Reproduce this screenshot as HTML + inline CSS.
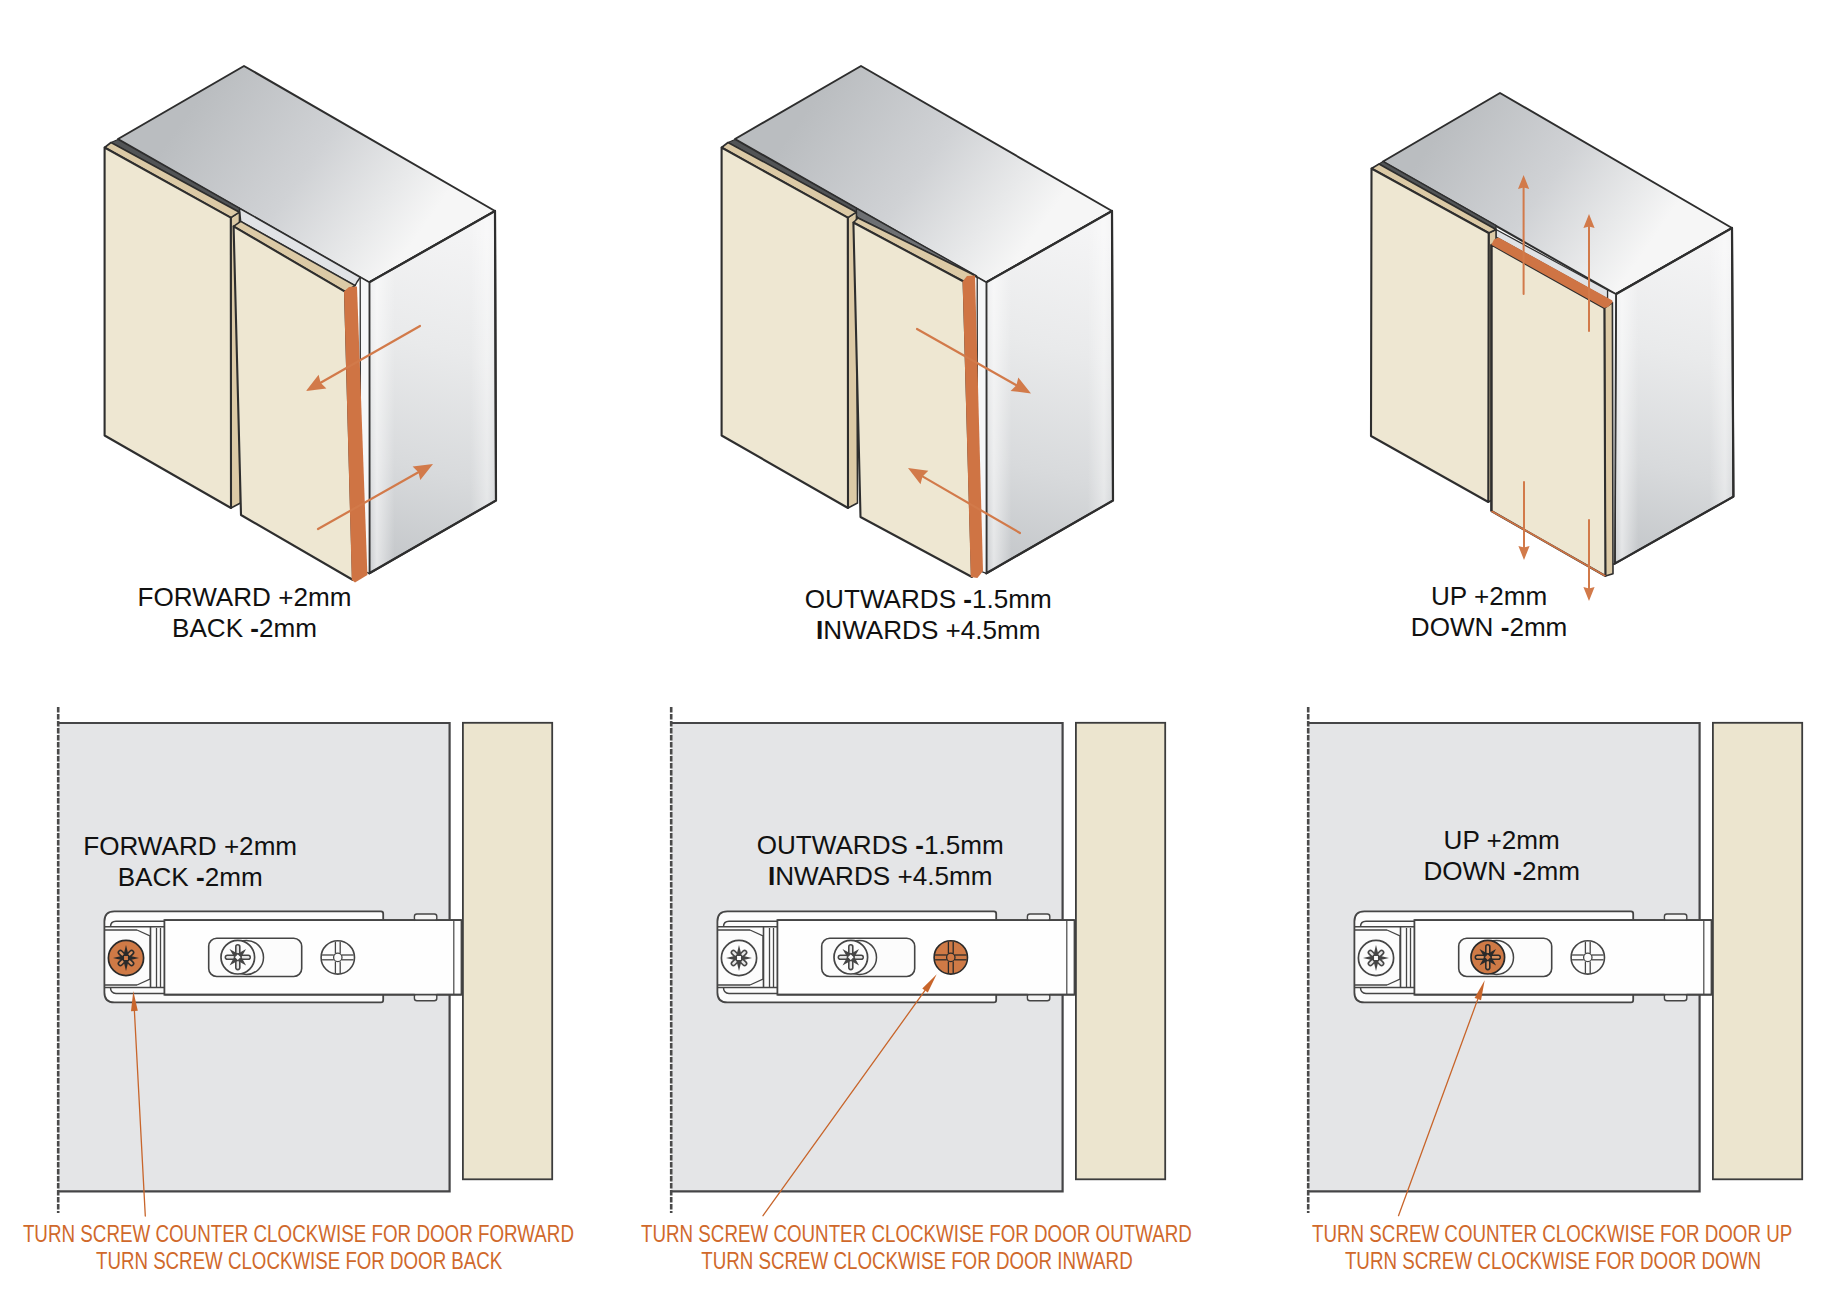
<!DOCTYPE html>
<html><head><meta charset="utf-8"><style>
html,body{margin:0;padding:0;background:#fff;}
svg{display:block;font-family:"Liberation Sans",sans-serif;}
</style></head><body>
<svg width="1828" height="1298" viewBox="0 0 1828 1298">
<rect width="1828" height="1298" fill="#fff"/>
<defs>
<linearGradient id="gBand" x1="0" y1="0" x2="1" y2="0"><stop offset="0" stop-color="#fff" stop-opacity="0.1"/><stop offset="0.06" stop-color="#fff" stop-opacity="0.55"/><stop offset="0.2" stop-color="#fff" stop-opacity="0"/><stop offset="0.8" stop-color="#fff" stop-opacity="0"/><stop offset="0.93" stop-color="#fff" stop-opacity="0.4"/><stop offset="1" stop-color="#fff" stop-opacity="0"/></linearGradient>
<linearGradient id="gTop0" gradientUnits="userSpaceOnUse" x1="190" y1="110" x2="400" y2="260"><stop offset="0" stop-color="#babdc0"/><stop offset="0.5" stop-color="#d0d2d5"/><stop offset="0.82" stop-color="#e8e9ea"/><stop offset="1" stop-color="#f6f6f6"/></linearGradient>
<linearGradient id="gSide0" gradientUnits="userSpaceOnUse" x1="470" y1="230" x2="390" y2="570"><stop offset="0" stop-color="#f4f4f5"/><stop offset="0.35" stop-color="#e9eaeb"/><stop offset="0.7" stop-color="#d8dadc"/><stop offset="1" stop-color="#c3c6c9"/></linearGradient>
<linearGradient id="gTop617" gradientUnits="userSpaceOnUse" x1="807" y1="110" x2="1017" y2="260"><stop offset="0" stop-color="#babdc0"/><stop offset="0.5" stop-color="#d0d2d5"/><stop offset="0.82" stop-color="#e8e9ea"/><stop offset="1" stop-color="#f6f6f6"/></linearGradient>
<linearGradient id="gSide617" gradientUnits="userSpaceOnUse" x1="1087" y1="230" x2="1007" y2="570"><stop offset="0" stop-color="#f4f4f5"/><stop offset="0.35" stop-color="#e9eaeb"/><stop offset="0.7" stop-color="#d8dadc"/><stop offset="1" stop-color="#c3c6c9"/></linearGradient>
<linearGradient id="gTop3" gradientUnits="userSpaceOnUse" x1="1440" y1="130" x2="1635" y2="265"><stop offset="0" stop-color="#babdc0"/><stop offset="0.5" stop-color="#d0d2d5"/><stop offset="0.82" stop-color="#e8e9ea"/><stop offset="1" stop-color="#f6f6f6"/></linearGradient>
<linearGradient id="gSide3" gradientUnits="userSpaceOnUse" x1="1705" y1="245" x2="1630" y2="560"><stop offset="0" stop-color="#f4f4f5"/><stop offset="0.35" stop-color="#e9eaeb"/><stop offset="0.7" stop-color="#d8dadc"/><stop offset="1" stop-color="#c3c6c9"/></linearGradient>
</defs>
<polygon points="118.0,139.0 244.0,66.0 495.0,211.0 369.2,282.4" fill="url(#gTop0)" stroke="#2e2e2e" stroke-width="2" stroke-linejoin="round"/>
<polygon points="369.2,282.4 495.0,211.0 496.0,500.5 369.3,573.3" fill="url(#gSide0)" stroke="#2e2e2e" stroke-width="2" stroke-linejoin="round"/>
<polygon points="369.2,282.4 495.0,211.0 496.0,500.5 369.3,573.3" fill="url(#gBand)"/>
<polygon points="369.2,282.4 495.0,211.0 496.0,500.5 369.3,573.3" fill="none" stroke="#2e2e2e" stroke-width="2.2" stroke-linejoin="round"/>
<polygon points="360.2,277.3 369.2,282.4 369.3,573.3 360.5,570.0" fill="#f6f7f8" stroke="#2e2e2e" stroke-width="1.3" stroke-linejoin="round" />
<polygon points="239.4,208.3 360.2,277.3 357.0,282.0 355.1,285.6 240.7,221.4" fill="#e1e3e6" stroke="#2e2e2e" stroke-width="1.4" stroke-linejoin="round" />
<polygon points="118.0,139.5 239.4,208.3 239.4,212.2 111.0,142.5" fill="#525456" stroke="#2e2e2e" stroke-width="1.3" stroke-linejoin="round" />
<polygon points="230.8,217.7 239.4,212.2 240.5,503.0 231.0,508.0" fill="#dccaa6" stroke="#2e2e2e" stroke-width="1.5" stroke-linejoin="round" />
<polygon points="104.6,147.5 111.0,142.5 239.4,212.2 230.8,217.7" fill="#dccaa6" stroke="#2e2e2e" stroke-width="1.6" stroke-linejoin="round" />
<polygon points="104.6,147.5 230.8,217.7 231.0,508.0 104.6,435.5" fill="#eee7d2" stroke="#2e2e2e" stroke-width="2.1" stroke-linejoin="round" />
<polygon points="233.6,226.4 240.7,221.4 355.1,285.6 345.0,291.6" fill="#dccaa6" stroke="#2e2e2e" stroke-width="1.6" stroke-linejoin="round" />
<polygon points="233.6,226.4 345.0,291.6 353.0,580.0 241.0,515.0" fill="#eee7d2" stroke="#2e2e2e" stroke-width="2.1" stroke-linejoin="round" />
<polygon points="344.0,291.6 349.0,287.0 357.0,286.5 367.4,575.0 355.0,582.5 351.8,580.0" fill="#cf7444" stroke="none" stroke-width="0" stroke-linejoin="round" />
<line x1="420.0" y1="326.0" x2="320.6" y2="382.7" stroke="#d27a4a" stroke-width="2.2" stroke-linecap="round"/>
<polygon points="306.0,391.0 318.6,374.8 320.6,382.7 326.4,388.4" fill="#d27a4a"/>
<line x1="318.0" y1="529.0" x2="418.4" y2="472.3" stroke="#d27a4a" stroke-width="2.2" stroke-linecap="round"/>
<polygon points="433.0,464.0 420.3,480.1 418.4,472.3 412.6,466.6" fill="#d27a4a"/>
<polygon points="735.0,139.0 861.0,66.0 1112.0,211.0 986.2,282.4" fill="url(#gTop617)" stroke="#2e2e2e" stroke-width="2" stroke-linejoin="round"/>
<polygon points="986.2,282.4 1112.0,211.0 1113.0,500.5 986.3,573.3" fill="url(#gSide617)" stroke="#2e2e2e" stroke-width="2" stroke-linejoin="round"/>
<polygon points="986.2,282.4 1112.0,211.0 1113.0,500.5 986.3,573.3" fill="url(#gBand)"/>
<polygon points="986.2,282.4 1112.0,211.0 1113.0,500.5 986.3,573.3" fill="none" stroke="#2e2e2e" stroke-width="2.2" stroke-linejoin="round"/>
<polygon points="977.2,277.3 986.2,282.4 986.3,573.3 977.5,570.0" fill="#f6f7f8" stroke="#2e2e2e" stroke-width="1.3" stroke-linejoin="round" />
<polygon points="856.4,208.3 976.5,275.8 975.0,275.5 858.0,218.0 854.7,213.4" fill="#6e7073" stroke="#2e2e2e" stroke-width="1.4" stroke-linejoin="round" />
<polygon points="735.0,139.5 856.4,208.3 856.4,212.2 728.0,142.5" fill="#525456" stroke="#2e2e2e" stroke-width="1.3" stroke-linejoin="round" />
<polygon points="847.8,217.7 856.4,212.2 857.5,503.0 848.0,508.0" fill="#dccaa6" stroke="#2e2e2e" stroke-width="1.5" stroke-linejoin="round" />
<polygon points="721.6,147.5 728.0,142.5 856.4,212.2 847.8,217.7" fill="#dccaa6" stroke="#2e2e2e" stroke-width="1.6" stroke-linejoin="round" />
<polygon points="721.6,147.5 847.8,217.7 848.0,508.0 721.6,435.5" fill="#eee7d2" stroke="#2e2e2e" stroke-width="2.1" stroke-linejoin="round" />
<polygon points="853.4,222.5 858.0,218.0 975.0,275.5 963.6,281.5" fill="#dccaa6" stroke="#2e2e2e" stroke-width="1.6" stroke-linejoin="round" />
<polygon points="853.4,222.5 963.6,281.5 972.0,577.0 860.5,517.0" fill="#eee7d2" stroke="#2e2e2e" stroke-width="2.1" stroke-linejoin="round" />
<polygon points="962.6,281.5 967.0,276.0 975.0,275.5 983.0,571.0 977.4,578.0 970.8,577.0" fill="#cf7444" stroke="none" stroke-width="0" stroke-linejoin="round" />
<line x1="917.0" y1="329.0" x2="1016.4" y2="385.2" stroke="#d27a4a" stroke-width="2.2" stroke-linecap="round"/>
<polygon points="1031.0,393.5 1010.6,390.9 1016.4,385.2 1018.3,377.4" fill="#d27a4a"/>
<line x1="1020.0" y1="533.0" x2="922.5" y2="476.4" stroke="#d27a4a" stroke-width="2.2" stroke-linecap="round"/>
<polygon points="908.0,468.0 928.3,470.8 922.5,476.4 920.5,484.3" fill="#d27a4a"/>
<polygon points="1383.0,161.5 1500.0,93.0 1732.0,228.0 1615.8,294.2" fill="url(#gTop3)" stroke="#2e2e2e" stroke-width="2" stroke-linejoin="round"/>
<polygon points="1615.8,294.2 1732.0,228.0 1733.4,496.6 1614.7,563.6" fill="url(#gSide3)" stroke="#2e2e2e" stroke-width="2" stroke-linejoin="round"/>
<polygon points="1615.8,294.2 1732.0,228.0 1733.4,496.6 1614.7,563.6" fill="url(#gBand)"/>
<polygon points="1615.8,294.2 1732.0,228.0 1733.4,496.6 1614.7,563.6" fill="none" stroke="#2e2e2e" stroke-width="2.2" stroke-linejoin="round"/>
<polygon points="1607.5,290.0 1615.8,294.2 1614.7,563.6 1607.5,566.0" fill="#f4f5f6" stroke="#2e2e2e" stroke-width="1.3" stroke-linejoin="round" />
<polygon points="1496.0,229.5 1607.5,290.0 1607.5,299.0 1496.0,237.0" fill="#e0e2e5" stroke="#2e2e2e" stroke-width="1.2" stroke-linejoin="round" />
<polygon points="1383.0,161.5 1496.0,225.5 1496.0,229.5 1379.0,164.0" fill="#525456" stroke="#2e2e2e" stroke-width="1.3" stroke-linejoin="round" />
<polygon points="1488.7,233.0 1496.0,229.5 1496.0,498.0 1488.3,502.0" fill="#dccaa6" stroke="#2e2e2e" stroke-width="1.5" stroke-linejoin="round" />
<polygon points="1371.5,168.5 1379.0,164.0 1496.0,229.5 1488.7,233.0" fill="#dccaa6" stroke="#2e2e2e" stroke-width="1.6" stroke-linejoin="round" />
<polygon points="1371.5,168.5 1488.7,233.0 1488.3,502.0 1371.0,436.0" fill="#eee7d2" stroke="#2e2e2e" stroke-width="2.1" stroke-linejoin="round" />
<polygon points="1604.4,308.0 1612.4,302.5 1613.0,573.7 1605.4,576.0" fill="#dccaa6" stroke="#2e2e2e" stroke-width="1.6" stroke-linejoin="round" />
<polygon points="1491.4,244.7 1604.4,308.0 1605.4,576.0 1491.4,511.0" fill="#eee7d2" stroke="#2e2e2e" stroke-width="2.1" stroke-linejoin="round" />
<line x1="1491.4" y1="511.0" x2="1605.4" y2="576.0" stroke="#cf7444" stroke-width="1.8" />
<line x1="1491.4" y1="244.7" x2="1491.4" y2="511.0" stroke="#2e2e2e" stroke-width="2.1" />
<polygon points="1491.4,244.7 1494.0,239.5 1498.5,237.6 1612.4,300.5 1612.4,302.5 1608.0,307.0 1604.4,308.0" fill="#cf7444"/>
<line x1="1523.6" y1="294.0" x2="1523.6" y2="187.5" stroke="#d27a4a" stroke-width="2.0" stroke-linecap="round"/>
<polygon points="1523.6,175.0 1529.2,189.0 1523.6,187.5 1518.0,189.0" fill="#d27a4a"/>
<line x1="1589.0" y1="331.0" x2="1589.0" y2="226.5" stroke="#d27a4a" stroke-width="2.0" stroke-linecap="round"/>
<polygon points="1589.0,214.0 1594.6,228.0 1589.0,226.5 1583.4,228.0" fill="#d27a4a"/>
<line x1="1524.0" y1="482.0" x2="1524.0" y2="547.5" stroke="#d27a4a" stroke-width="2.0" stroke-linecap="round"/>
<polygon points="1524.0,560.0 1518.4,546.0 1524.0,547.5 1529.6,546.0" fill="#d27a4a"/>
<line x1="1589.0" y1="520.0" x2="1589.0" y2="588.5" stroke="#d27a4a" stroke-width="2.0" stroke-linecap="round"/>
<polygon points="1589.0,601.0 1583.4,587.0 1589.0,588.5 1594.6,587.0" fill="#d27a4a"/>
<text x="244.5" y="606.2" font-size="26.1" text-anchor="middle" fill="#111">FORWARD +2mm</text>
<text x="244.5" y="637" font-size="26.1" text-anchor="middle" fill="#111">BACK <tspan font-weight="bold">-</tspan>2mm</text>
<text x="928.3" y="608.2" font-size="26.1" text-anchor="middle" fill="#111">OUTWARDS <tspan font-weight="bold">-</tspan>1.5mm</text>
<text x="928.3" y="639.4" font-size="26.1" text-anchor="middle" fill="#111"><tspan font-weight="bold">I</tspan>NWARDS +4.5mm</text>
<text x="1489.1" y="605.2" font-size="26.1" text-anchor="middle" fill="#111">UP +2mm</text>
<text x="1489.1" y="636.3" font-size="26.1" text-anchor="middle" fill="#111">DOWN <tspan font-weight="bold">-</tspan>2mm</text>
<rect x="58.2" y="723" width="391.40000000000003" height="468.29999999999995" fill="#e4e5e7"/>
<path d="M58.2,723 H449.6 V1191.3 H58.2" fill="none" stroke="#454547" stroke-width="2.2"/>
<line x1="58.2" y1="707" x2="58.2" y2="1213" stroke="#4a4a4a" stroke-width="2.6" stroke-dasharray="5.6,1.4"/>
<rect x="462.9" y="722.8" width="89.30000000000007" height="456.5" fill="#ece5cf" stroke="#3c3c3c" stroke-width="1.8"/>
<text x="190.2" y="855.4" font-size="26.1" text-anchor="middle" fill="#111">FORWARD +2mm</text>
<text x="190.2" y="886" font-size="26.1" text-anchor="middle" fill="#111">BACK <tspan font-weight="bold">-</tspan>2mm</text>
<path d="M381,911.4 L114.4,911.4 Q104.4,911.4 104.4,921.4 L104.4,992.4 Q104.4,1002.4 114.4,1002.4 L381,1002.4 Q383.2,1002.4 383.2,1000 L383.2,913.8 Q383.2,911.4 381,911.4 Z" fill="#fcfcfc" stroke="#454545" stroke-width="1.8"/>
<path d="M164.4,921.2 L116,921.2 Q110.5,921.2 110.5,926.8" fill="none" stroke="#454545" stroke-width="1.5"/>
<path d="M164.4,993.4 L116,993.4 Q110.5,993.4 110.5,987.6" fill="none" stroke="#454545" stroke-width="1.5"/>
<line x1="104.4" y1="926.8" x2="164.4" y2="926.8" stroke="#454545" stroke-width="1.5" />
<line x1="104.4" y1="987.6" x2="164.4" y2="987.6" stroke="#454545" stroke-width="1.5" />
<line x1="104.4" y1="930.0" x2="137.0" y2="930.0" stroke="#454545" stroke-width="1.3" />
<line x1="104.4" y1="985.0" x2="137.0" y2="985.0" stroke="#454545" stroke-width="1.3" />
<path d="M137,930 L150,936 L150,979 L137,985" fill="none" stroke="#454545" stroke-width="1.3"/>
<line x1="150.5" y1="927.0" x2="150.5" y2="988.0" stroke="#454545" stroke-width="1.6" />
<line x1="156.5" y1="928.0" x2="156.5" y2="987.0" stroke="#454545" stroke-width="1.3" />
<line x1="160.5" y1="928.0" x2="160.5" y2="987.0" stroke="#454545" stroke-width="1.3" />
<rect x="164.4" y="920.1" width="297.1" height="74.60000000000002" fill="#fefefe" stroke="#454545" stroke-width="1.8"/>
<line x1="453.8" y1="921.0" x2="453.8" y2="994.0" stroke="#454545" stroke-width="1.2" />
<rect x="414.4" y="914" width="22.4" height="7" rx="2.5" fill="#f4f4f4" stroke="#454545" stroke-width="1.4"/>
<rect x="414.4" y="993.8" width="22.4" height="7" rx="2.5" fill="#f4f4f4" stroke="#454545" stroke-width="1.4"/>
<rect x="414.4" y="920.1" width="22.4" height="74.6" fill="#fefefe"/>
<line x1="164.4" y1="920.1" x2="461.5" y2="920.1" stroke="#454545" stroke-width="1.8" />
<line x1="164.4" y1="994.7" x2="461.5" y2="994.7" stroke="#454545" stroke-width="1.8" />
<rect x="208.7" y="938.3" width="93.0" height="38.200000000000045" rx="8" fill="#fcfcfc" stroke="#454545" stroke-width="1.6"/>
<circle cx="246.5" cy="957.4" r="17" fill="#fcfcfc" stroke="#454545" stroke-width="1.5"/>
<circle cx="126" cy="958" r="17.6" fill="#cf7a46" stroke="#2a2a2a" stroke-width="1.7"/>
<line x1="128.3" y1="960.3" x2="131.6" y2="963.6" stroke="#2a2a2a" stroke-width="5.6" stroke-linecap="round"/>
<line x1="123.7" y1="960.3" x2="120.4" y2="963.6" stroke="#2a2a2a" stroke-width="5.6" stroke-linecap="round"/>
<line x1="123.7" y1="955.7" x2="120.4" y2="952.4" stroke="#2a2a2a" stroke-width="5.6" stroke-linecap="round"/>
<line x1="128.3" y1="955.7" x2="131.6" y2="952.4" stroke="#2a2a2a" stroke-width="5.6" stroke-linecap="round"/>
<line x1="129.3" y1="961.3" x2="131.6" y2="963.6" stroke="#d9915f" stroke-width="2.4" stroke-linecap="round"/>
<line x1="122.7" y1="961.3" x2="120.4" y2="963.6" stroke="#d9915f" stroke-width="2.4" stroke-linecap="round"/>
<line x1="122.7" y1="954.7" x2="120.4" y2="952.4" stroke="#d9915f" stroke-width="2.4" stroke-linecap="round"/>
<line x1="129.3" y1="954.7" x2="131.6" y2="952.4" stroke="#d9915f" stroke-width="2.4" stroke-linecap="round"/>
<polygon points="126.0,971.0 123.4,960.4 128.6,960.4" fill="#2a2a2a"/>
<polygon points="113.0,958.0 123.6,955.4 123.6,960.6" fill="#2a2a2a"/>
<polygon points="126.0,945.0 128.6,955.6 123.4,955.6" fill="#2a2a2a"/>
<polygon points="139.0,958.0 128.4,960.6 128.4,955.4" fill="#2a2a2a"/>
<polygon points="128.5,960.5 123.5,960.5 123.5,955.5 128.5,955.5" fill="#cf7a46" stroke="#2a2a2a" stroke-width="1.1"/>
<circle cx="237.8" cy="957.2" r="16.8" fill="#fcfcfc" stroke="#454545" stroke-width="1.7"/>
<line x1="241.0" y1="957.2" x2="248.2" y2="957.2" stroke="#454545" stroke-width="5.6" stroke-linecap="round"/>
<line x1="237.8" y1="960.4" x2="237.8" y2="967.6" stroke="#454545" stroke-width="5.6" stroke-linecap="round"/>
<line x1="234.6" y1="957.2" x2="227.4" y2="957.2" stroke="#454545" stroke-width="5.6" stroke-linecap="round"/>
<line x1="237.8" y1="954.0" x2="237.8" y2="946.8" stroke="#454545" stroke-width="5.6" stroke-linecap="round"/>
<line x1="242.4" y1="957.2" x2="248.2" y2="957.2" stroke="#e6e6e6" stroke-width="2.4" stroke-linecap="round"/>
<line x1="237.8" y1="961.8" x2="237.8" y2="967.6" stroke="#e6e6e6" stroke-width="2.4" stroke-linecap="round"/>
<line x1="233.2" y1="957.2" x2="227.4" y2="957.2" stroke="#e6e6e6" stroke-width="2.4" stroke-linecap="round"/>
<line x1="237.8" y1="952.6" x2="237.8" y2="946.8" stroke="#e6e6e6" stroke-width="2.4" stroke-linecap="round"/>
<polygon points="246.1,965.5 237.7,960.7 241.3,957.1" fill="#454545"/>
<polygon points="229.5,965.5 234.3,957.1 237.9,960.7" fill="#454545"/>
<polygon points="229.5,948.9 237.9,953.7 234.3,957.3" fill="#454545"/>
<polygon points="246.1,948.9 241.3,957.3 237.7,953.7" fill="#454545"/>
<polygon points="241.4,957.2 237.8,960.8 234.2,957.2 237.8,953.6" fill="#fcfcfc" stroke="#454545" stroke-width="1.1"/>
<circle cx="337.8" cy="957.4" r="16.7" fill="#fcfcfc" stroke="#454545" stroke-width="1.6"/>
<line x1="322.1" y1="955.0" x2="333.8" y2="955.0" stroke="#454545" stroke-width="1.3" />
<line x1="341.8" y1="955.0" x2="353.5" y2="955.0" stroke="#454545" stroke-width="1.3" />
<line x1="335.4" y1="941.7" x2="335.4" y2="953.4" stroke="#454545" stroke-width="1.3" />
<line x1="335.4" y1="961.4" x2="335.4" y2="973.1" stroke="#454545" stroke-width="1.3" />
<line x1="322.1" y1="959.8" x2="333.8" y2="959.8" stroke="#454545" stroke-width="1.3" />
<line x1="341.8" y1="959.8" x2="353.5" y2="959.8" stroke="#454545" stroke-width="1.3" />
<line x1="340.2" y1="941.7" x2="340.2" y2="953.4" stroke="#454545" stroke-width="1.3" />
<line x1="340.2" y1="961.4" x2="340.2" y2="973.1" stroke="#454545" stroke-width="1.3" />
<circle cx="337.8" cy="957.4" r="4.2" fill="none" stroke="#454545" stroke-width="1.3"/>
<line x1="145.3" y1="1216.0" x2="134.4" y2="1011.0" stroke="#c8652b" stroke-width="1.3" stroke-linecap="round"/>
<polygon points="133.3,991.0 137.8,1010.8 134.4,1011.0 131.0,1011.2" fill="#c8652b"/>
<text x="22.9" y="1241.9" font-size="23.6" fill="#d0692b" textLength="551.1" lengthAdjust="spacingAndGlyphs">TURN SCREW COUNTER CLOCKWISE FOR DOOR FORWARD</text>
<text x="96.0" y="1269.3" font-size="23.6" fill="#d0692b" textLength="406.3" lengthAdjust="spacingAndGlyphs">TURN SCREW CLOCKWISE FOR DOOR BACK</text>
<rect x="671.2" y="723" width="391.40000000000003" height="468.29999999999995" fill="#e4e5e7"/>
<path d="M671.2,723 H1062.6 V1191.3 H671.2" fill="none" stroke="#454547" stroke-width="2.2"/>
<line x1="671.2" y1="707" x2="671.2" y2="1213" stroke="#4a4a4a" stroke-width="2.6" stroke-dasharray="5.6,1.4"/>
<rect x="1075.9" y="722.8" width="89.30000000000007" height="456.5" fill="#ece5cf" stroke="#3c3c3c" stroke-width="1.8"/>
<text x="880.2" y="853.8" font-size="26.1" text-anchor="middle" fill="#111">OUTWARDS <tspan font-weight="bold">-</tspan>1.5mm</text>
<text x="880.2" y="885.2" font-size="26.1" text-anchor="middle" fill="#111"><tspan font-weight="bold">I</tspan>NWARDS +4.5mm</text>
<path d="M994,911.4 L727.4,911.4 Q717.4,911.4 717.4,921.4 L717.4,992.4 Q717.4,1002.4 727.4,1002.4 L994,1002.4 Q996.2,1002.4 996.2,1000 L996.2,913.8 Q996.2,911.4 994,911.4 Z" fill="#fcfcfc" stroke="#454545" stroke-width="1.8"/>
<path d="M777.4,921.2 L729,921.2 Q723.5,921.2 723.5,926.8" fill="none" stroke="#454545" stroke-width="1.5"/>
<path d="M777.4,993.4 L729,993.4 Q723.5,993.4 723.5,987.6" fill="none" stroke="#454545" stroke-width="1.5"/>
<line x1="717.4" y1="926.8" x2="777.4" y2="926.8" stroke="#454545" stroke-width="1.5" />
<line x1="717.4" y1="987.6" x2="777.4" y2="987.6" stroke="#454545" stroke-width="1.5" />
<line x1="717.4" y1="930.0" x2="750.0" y2="930.0" stroke="#454545" stroke-width="1.3" />
<line x1="717.4" y1="985.0" x2="750.0" y2="985.0" stroke="#454545" stroke-width="1.3" />
<path d="M750,930 L763,936 L763,979 L750,985" fill="none" stroke="#454545" stroke-width="1.3"/>
<line x1="763.5" y1="927.0" x2="763.5" y2="988.0" stroke="#454545" stroke-width="1.6" />
<line x1="769.5" y1="928.0" x2="769.5" y2="987.0" stroke="#454545" stroke-width="1.3" />
<line x1="773.5" y1="928.0" x2="773.5" y2="987.0" stroke="#454545" stroke-width="1.3" />
<rect x="777.4" y="920.1" width="297.1" height="74.60000000000002" fill="#fefefe" stroke="#454545" stroke-width="1.8"/>
<line x1="1066.8" y1="921.0" x2="1066.8" y2="994.0" stroke="#454545" stroke-width="1.2" />
<rect x="1027.4" y="914" width="22.4" height="7" rx="2.5" fill="#f4f4f4" stroke="#454545" stroke-width="1.4"/>
<rect x="1027.4" y="993.8" width="22.4" height="7" rx="2.5" fill="#f4f4f4" stroke="#454545" stroke-width="1.4"/>
<rect x="1027.4" y="920.1" width="22.4" height="74.6" fill="#fefefe"/>
<line x1="777.4" y1="920.1" x2="1074.5" y2="920.1" stroke="#454545" stroke-width="1.8" />
<line x1="777.4" y1="994.7" x2="1074.5" y2="994.7" stroke="#454545" stroke-width="1.8" />
<rect x="821.7" y="938.3" width="93.0" height="38.200000000000045" rx="8" fill="#fcfcfc" stroke="#454545" stroke-width="1.6"/>
<circle cx="859.5" cy="957.4" r="17" fill="#fcfcfc" stroke="#454545" stroke-width="1.5"/>
<circle cx="739" cy="958" r="17.6" fill="#fcfcfc" stroke="#454545" stroke-width="1.7"/>
<line x1="741.3" y1="960.3" x2="744.6" y2="963.6" stroke="#454545" stroke-width="5.6" stroke-linecap="round"/>
<line x1="736.7" y1="960.3" x2="733.4" y2="963.6" stroke="#454545" stroke-width="5.6" stroke-linecap="round"/>
<line x1="736.7" y1="955.7" x2="733.4" y2="952.4" stroke="#454545" stroke-width="5.6" stroke-linecap="round"/>
<line x1="741.3" y1="955.7" x2="744.6" y2="952.4" stroke="#454545" stroke-width="5.6" stroke-linecap="round"/>
<line x1="742.3" y1="961.3" x2="744.6" y2="963.6" stroke="#e6e6e6" stroke-width="2.4" stroke-linecap="round"/>
<line x1="735.7" y1="961.3" x2="733.4" y2="963.6" stroke="#e6e6e6" stroke-width="2.4" stroke-linecap="round"/>
<line x1="735.7" y1="954.7" x2="733.4" y2="952.4" stroke="#e6e6e6" stroke-width="2.4" stroke-linecap="round"/>
<line x1="742.3" y1="954.7" x2="744.6" y2="952.4" stroke="#e6e6e6" stroke-width="2.4" stroke-linecap="round"/>
<polygon points="739.0,971.0 736.4,960.4 741.6,960.4" fill="#454545"/>
<polygon points="726.0,958.0 736.6,955.4 736.6,960.6" fill="#454545"/>
<polygon points="739.0,945.0 741.6,955.6 736.4,955.6" fill="#454545"/>
<polygon points="752.0,958.0 741.4,960.6 741.4,955.4" fill="#454545"/>
<polygon points="741.5,960.5 736.5,960.5 736.5,955.5 741.5,955.5" fill="#fcfcfc" stroke="#454545" stroke-width="1.1"/>
<circle cx="850.8" cy="957.2" r="16.8" fill="#fcfcfc" stroke="#454545" stroke-width="1.7"/>
<line x1="854.0" y1="957.2" x2="861.2" y2="957.2" stroke="#454545" stroke-width="5.6" stroke-linecap="round"/>
<line x1="850.8" y1="960.4" x2="850.8" y2="967.6" stroke="#454545" stroke-width="5.6" stroke-linecap="round"/>
<line x1="847.6" y1="957.2" x2="840.4" y2="957.2" stroke="#454545" stroke-width="5.6" stroke-linecap="round"/>
<line x1="850.8" y1="954.0" x2="850.8" y2="946.8" stroke="#454545" stroke-width="5.6" stroke-linecap="round"/>
<line x1="855.4" y1="957.2" x2="861.2" y2="957.2" stroke="#e6e6e6" stroke-width="2.4" stroke-linecap="round"/>
<line x1="850.8" y1="961.8" x2="850.8" y2="967.6" stroke="#e6e6e6" stroke-width="2.4" stroke-linecap="round"/>
<line x1="846.2" y1="957.2" x2="840.4" y2="957.2" stroke="#e6e6e6" stroke-width="2.4" stroke-linecap="round"/>
<line x1="850.8" y1="952.6" x2="850.8" y2="946.8" stroke="#e6e6e6" stroke-width="2.4" stroke-linecap="round"/>
<polygon points="859.1,965.5 850.7,960.7 854.3,957.1" fill="#454545"/>
<polygon points="842.5,965.5 847.3,957.1 850.9,960.7" fill="#454545"/>
<polygon points="842.5,948.9 850.9,953.7 847.3,957.3" fill="#454545"/>
<polygon points="859.1,948.9 854.3,957.3 850.7,953.7" fill="#454545"/>
<polygon points="854.4,957.2 850.8,960.8 847.2,957.2 850.8,953.6" fill="#fcfcfc" stroke="#454545" stroke-width="1.1"/>
<circle cx="950.8" cy="957.4" r="16.7" fill="#cf7a46" stroke="#2a2a2a" stroke-width="1.6"/>
<line x1="935.1" y1="955.0" x2="946.8" y2="955.0" stroke="#2a2a2a" stroke-width="1.3" />
<line x1="954.8" y1="955.0" x2="966.5" y2="955.0" stroke="#2a2a2a" stroke-width="1.3" />
<line x1="948.4" y1="941.7" x2="948.4" y2="953.4" stroke="#2a2a2a" stroke-width="1.3" />
<line x1="948.4" y1="961.4" x2="948.4" y2="973.1" stroke="#2a2a2a" stroke-width="1.3" />
<line x1="935.1" y1="959.8" x2="946.8" y2="959.8" stroke="#2a2a2a" stroke-width="1.3" />
<line x1="954.8" y1="959.8" x2="966.5" y2="959.8" stroke="#2a2a2a" stroke-width="1.3" />
<line x1="953.2" y1="941.7" x2="953.2" y2="953.4" stroke="#2a2a2a" stroke-width="1.3" />
<line x1="953.2" y1="961.4" x2="953.2" y2="973.1" stroke="#2a2a2a" stroke-width="1.3" />
<circle cx="950.8" cy="957.4" r="4.2" fill="none" stroke="#2a2a2a" stroke-width="1.3"/>
<line x1="763.0" y1="1215.7" x2="925.0" y2="990.4" stroke="#c8652b" stroke-width="1.3" stroke-linecap="round"/>
<polygon points="936.7,974.2 927.8,992.4 925.0,990.4 922.3,988.5" fill="#c8652b"/>
<text x="641.0" y="1241.9" font-size="23.6" fill="#d0692b" textLength="550.8" lengthAdjust="spacingAndGlyphs">TURN SCREW COUNTER CLOCKWISE FOR DOOR OUTWARD</text>
<text x="701.2" y="1269.3" font-size="23.6" fill="#d0692b" textLength="431.5" lengthAdjust="spacingAndGlyphs">TURN SCREW CLOCKWISE FOR DOOR INWARD</text>
<rect x="1308.2" y="723" width="391.40000000000003" height="468.29999999999995" fill="#e4e5e7"/>
<path d="M1308.2,723 H1699.6 V1191.3 H1308.2" fill="none" stroke="#454547" stroke-width="2.2"/>
<line x1="1308.2" y1="707" x2="1308.2" y2="1213" stroke="#4a4a4a" stroke-width="2.6" stroke-dasharray="5.6,1.4"/>
<rect x="1712.9" y="722.8" width="89.30000000000007" height="456.5" fill="#ece5cf" stroke="#3c3c3c" stroke-width="1.8"/>
<text x="1501.7" y="849.4" font-size="26.1" text-anchor="middle" fill="#111">UP +2mm</text>
<text x="1501.7" y="880" font-size="26.1" text-anchor="middle" fill="#111">DOWN <tspan font-weight="bold">-</tspan>2mm</text>
<path d="M1631,911.4 L1364.4,911.4 Q1354.4,911.4 1354.4,921.4 L1354.4,992.4 Q1354.4,1002.4 1364.4,1002.4 L1631,1002.4 Q1633.2,1002.4 1633.2,1000 L1633.2,913.8 Q1633.2,911.4 1631,911.4 Z" fill="#fcfcfc" stroke="#454545" stroke-width="1.8"/>
<path d="M1414.4,921.2 L1366,921.2 Q1360.5,921.2 1360.5,926.8" fill="none" stroke="#454545" stroke-width="1.5"/>
<path d="M1414.4,993.4 L1366,993.4 Q1360.5,993.4 1360.5,987.6" fill="none" stroke="#454545" stroke-width="1.5"/>
<line x1="1354.4" y1="926.8" x2="1414.4" y2="926.8" stroke="#454545" stroke-width="1.5" />
<line x1="1354.4" y1="987.6" x2="1414.4" y2="987.6" stroke="#454545" stroke-width="1.5" />
<line x1="1354.4" y1="930.0" x2="1387.0" y2="930.0" stroke="#454545" stroke-width="1.3" />
<line x1="1354.4" y1="985.0" x2="1387.0" y2="985.0" stroke="#454545" stroke-width="1.3" />
<path d="M1387,930 L1400,936 L1400,979 L1387,985" fill="none" stroke="#454545" stroke-width="1.3"/>
<line x1="1400.5" y1="927.0" x2="1400.5" y2="988.0" stroke="#454545" stroke-width="1.6" />
<line x1="1406.5" y1="928.0" x2="1406.5" y2="987.0" stroke="#454545" stroke-width="1.3" />
<line x1="1410.5" y1="928.0" x2="1410.5" y2="987.0" stroke="#454545" stroke-width="1.3" />
<rect x="1414.4" y="920.1" width="297.1" height="74.60000000000002" fill="#fefefe" stroke="#454545" stroke-width="1.8"/>
<line x1="1703.8" y1="921.0" x2="1703.8" y2="994.0" stroke="#454545" stroke-width="1.2" />
<rect x="1664.4" y="914" width="22.4" height="7" rx="2.5" fill="#f4f4f4" stroke="#454545" stroke-width="1.4"/>
<rect x="1664.4" y="993.8" width="22.4" height="7" rx="2.5" fill="#f4f4f4" stroke="#454545" stroke-width="1.4"/>
<rect x="1664.4" y="920.1" width="22.4" height="74.6" fill="#fefefe"/>
<line x1="1414.4" y1="920.1" x2="1711.5" y2="920.1" stroke="#454545" stroke-width="1.8" />
<line x1="1414.4" y1="994.7" x2="1711.5" y2="994.7" stroke="#454545" stroke-width="1.8" />
<rect x="1458.7" y="938.3" width="93.0" height="38.200000000000045" rx="8" fill="#fcfcfc" stroke="#454545" stroke-width="1.6"/>
<circle cx="1496.5" cy="957.4" r="17" fill="#fcfcfc" stroke="#454545" stroke-width="1.5"/>
<circle cx="1376" cy="958" r="17.6" fill="#fcfcfc" stroke="#454545" stroke-width="1.7"/>
<line x1="1378.3" y1="960.3" x2="1381.6" y2="963.6" stroke="#454545" stroke-width="5.6" stroke-linecap="round"/>
<line x1="1373.7" y1="960.3" x2="1370.4" y2="963.6" stroke="#454545" stroke-width="5.6" stroke-linecap="round"/>
<line x1="1373.7" y1="955.7" x2="1370.4" y2="952.4" stroke="#454545" stroke-width="5.6" stroke-linecap="round"/>
<line x1="1378.3" y1="955.7" x2="1381.6" y2="952.4" stroke="#454545" stroke-width="5.6" stroke-linecap="round"/>
<line x1="1379.3" y1="961.3" x2="1381.6" y2="963.6" stroke="#e6e6e6" stroke-width="2.4" stroke-linecap="round"/>
<line x1="1372.7" y1="961.3" x2="1370.4" y2="963.6" stroke="#e6e6e6" stroke-width="2.4" stroke-linecap="round"/>
<line x1="1372.7" y1="954.7" x2="1370.4" y2="952.4" stroke="#e6e6e6" stroke-width="2.4" stroke-linecap="round"/>
<line x1="1379.3" y1="954.7" x2="1381.6" y2="952.4" stroke="#e6e6e6" stroke-width="2.4" stroke-linecap="round"/>
<polygon points="1376.0,971.0 1373.4,960.4 1378.6,960.4" fill="#454545"/>
<polygon points="1363.0,958.0 1373.6,955.4 1373.6,960.6" fill="#454545"/>
<polygon points="1376.0,945.0 1378.6,955.6 1373.4,955.6" fill="#454545"/>
<polygon points="1389.0,958.0 1378.4,960.6 1378.4,955.4" fill="#454545"/>
<polygon points="1378.5,960.5 1373.5,960.5 1373.5,955.5 1378.5,955.5" fill="#fcfcfc" stroke="#454545" stroke-width="1.1"/>
<circle cx="1487.8" cy="957.2" r="16.8" fill="#cf7a46" stroke="#2a2a2a" stroke-width="1.7"/>
<line x1="1491.0" y1="957.2" x2="1498.2" y2="957.2" stroke="#2a2a2a" stroke-width="5.6" stroke-linecap="round"/>
<line x1="1487.8" y1="960.4" x2="1487.8" y2="967.6" stroke="#2a2a2a" stroke-width="5.6" stroke-linecap="round"/>
<line x1="1484.6" y1="957.2" x2="1477.4" y2="957.2" stroke="#2a2a2a" stroke-width="5.6" stroke-linecap="round"/>
<line x1="1487.8" y1="954.0" x2="1487.8" y2="946.8" stroke="#2a2a2a" stroke-width="5.6" stroke-linecap="round"/>
<line x1="1492.4" y1="957.2" x2="1498.2" y2="957.2" stroke="#d9915f" stroke-width="2.4" stroke-linecap="round"/>
<line x1="1487.8" y1="961.8" x2="1487.8" y2="967.6" stroke="#d9915f" stroke-width="2.4" stroke-linecap="round"/>
<line x1="1483.2" y1="957.2" x2="1477.4" y2="957.2" stroke="#d9915f" stroke-width="2.4" stroke-linecap="round"/>
<line x1="1487.8" y1="952.6" x2="1487.8" y2="946.8" stroke="#d9915f" stroke-width="2.4" stroke-linecap="round"/>
<polygon points="1496.1,965.5 1487.7,960.7 1491.3,957.1" fill="#2a2a2a"/>
<polygon points="1479.5,965.5 1484.3,957.1 1487.9,960.7" fill="#2a2a2a"/>
<polygon points="1479.5,948.9 1487.9,953.7 1484.3,957.3" fill="#2a2a2a"/>
<polygon points="1496.1,948.9 1491.3,957.3 1487.7,953.7" fill="#2a2a2a"/>
<polygon points="1491.4,957.2 1487.8,960.8 1484.2,957.2 1487.8,953.6" fill="#cf7a46" stroke="#2a2a2a" stroke-width="1.1"/>
<circle cx="1587.8" cy="957.4" r="16.7" fill="#fcfcfc" stroke="#454545" stroke-width="1.6"/>
<line x1="1572.1" y1="955.0" x2="1583.8" y2="955.0" stroke="#454545" stroke-width="1.3" />
<line x1="1591.8" y1="955.0" x2="1603.5" y2="955.0" stroke="#454545" stroke-width="1.3" />
<line x1="1585.4" y1="941.7" x2="1585.4" y2="953.4" stroke="#454545" stroke-width="1.3" />
<line x1="1585.4" y1="961.4" x2="1585.4" y2="973.1" stroke="#454545" stroke-width="1.3" />
<line x1="1572.1" y1="959.8" x2="1583.8" y2="959.8" stroke="#454545" stroke-width="1.3" />
<line x1="1591.8" y1="959.8" x2="1603.5" y2="959.8" stroke="#454545" stroke-width="1.3" />
<line x1="1590.2" y1="941.7" x2="1590.2" y2="953.4" stroke="#454545" stroke-width="1.3" />
<line x1="1590.2" y1="961.4" x2="1590.2" y2="973.1" stroke="#454545" stroke-width="1.3" />
<circle cx="1587.8" cy="957.4" r="4.2" fill="none" stroke="#454545" stroke-width="1.3"/>
<line x1="1398.5" y1="1215.7" x2="1477.8" y2="999.1" stroke="#c8652b" stroke-width="1.3" stroke-linecap="round"/>
<polygon points="1484.7,980.3 1481.0,1000.2 1477.8,999.1 1474.6,997.9" fill="#c8652b"/>
<text x="1312.1" y="1241.9" font-size="23.6" fill="#d0692b" textLength="480.1" lengthAdjust="spacingAndGlyphs">TURN SCREW COUNTER CLOCKWISE FOR DOOR UP</text>
<text x="1344.9" y="1269.3" font-size="23.6" fill="#d0692b" textLength="416.1" lengthAdjust="spacingAndGlyphs">TURN SCREW CLOCKWISE FOR DOOR DOWN</text>
</svg>
</body></html>
